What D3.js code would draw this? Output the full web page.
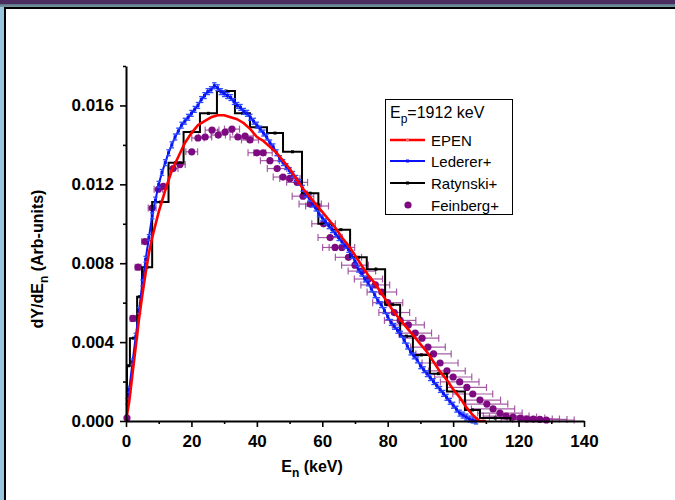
<!DOCTYPE html>
<html><head><meta charset="utf-8">
<script src="https://cdn.jsdelivr.net/npm/d3@7"></script>
<style>body{margin:0;background:#fff} svg{display:block} text{font-family:"Liberation Sans",Arial,sans-serif}</style>
</head><body><svg id="c" width="675" height="500"></svg>
<script>
// ---------- data ----------
const xTicks = [0,20,40,60,80,100,120,140];
const yTicks = [0.000,0.004,0.008,0.012,0.016];

const epenE = [0,1,2,3,4,5,6,7,8,10,12,14,16,18,20,22,24,26,28,30,32,34,36,38,40,42,44,46,48,50,52,54,56,58,60,62,64,66,68,70,72,74,76,78,80,82,84,86,88,90,92,94,96,98,100,102,104,106,108,110];
const epenY = [0,0.0010,0.0024,0.0038,0.0052,0.0064,0.0075,0.0085,0.0093,0.0106,0.0117,0.0127,0.0134,0.0141,0.0146,0.0150,0.0152,0.0154,0.0155,0.0155,0.0154,0.0153,0.0151,0.0148,0.0144,0.0142,0.0139,0.0136,0.0132,0.0128,0.0123,0.0118,0.0114,0.0110,0.0106,0.0102,0.0098,0.0093,0.0089,0.0084,0.0079,0.0074,0.0070,0.0065,0.0060,0.0055,0.0051,0.0047,0.0043,0.0039,0.0035,0.0030,0.0025,0.0021,0.0016,0.0012,0.0007,0.0003,0.0000,0.0000];

const ledererE = [0.5,1,2,3,4,5,6,7,8,9,10,11,12,13,14,15,16,17,18,19,20,21,22,23,24,25,26,27,28,29,30,31,32,33,34,35,36,37,38,39,40,41,42,43,44,45,46,47,48,49,50,51,52,53,54,55,56,57,58,59,60,61,62,63,64,65,66,67,68,69,70,71,72,73,74,75,76,77,78,79,80,81,82,83,84,85,86,87,88,89,90,91,92,93,94,95,96,97,98,99,100,101,102,103,104,105,106,107];
const ledererY = [0.0010,0.0016,0.0030,0.0043,0.0056,0.0070,0.0082,0.0093,0.0104,0.0112,0.0120,0.0126,0.0131,0.0136,0.0140,0.0144,0.0147,0.0150,0.0152,0.0154,0.0156,0.0158,0.0160,0.0163,0.0165,0.0167,0.0168,0.0170,0.0169,0.0167,0.0166,0.0165,0.0164,0.0162,0.0160,0.0159,0.0157,0.0156,0.0154,0.0152,0.0150,0.0148,0.0146,0.0144,0.0141,0.0139,0.0136,0.0133,0.0131,0.0129,0.0127,0.0125,0.0123,0.0121,0.0118,0.0115,0.0113,0.0110,0.0108,0.0105,0.0103,0.0101,0.0099,0.0097,0.0095,0.0093,0.0091,0.0089,0.0087,0.0084,0.0081,0.0077,0.0075,0.0072,0.0070,0.0067,0.0064,0.0061,0.0059,0.0056,0.0053,0.0050,0.0048,0.0046,0.0044,0.0041,0.0038,0.0035,0.0033,0.0031,0.0028,0.0026,0.0024,0.0022,0.0020,0.0018,0.0016,0.0014,0.0012,0.0010,0.0008,0.0006,0.0004,0.0003,0.0002,0.0001,0.00005,0.0000];
const ledererErr = 0.00015;

// Ratynski histogram: bin edges and bin contents
const ratEdges = [0.3,1.2,3.4,4.9,8.0,13.0,17.6,22.6,27.8,33.3,37.9,43.1,48.0,53.8,58.8,62.9,68.5,73.6,79.2,83.8,87.7,92.9,98.1,103.6,108.2,117.5];
const ratY = [0.0028,0.0042,0.0063,0.0078,0.0111,0.0131,0.01465,0.0156,0.01673,0.0156,0.0149,0.0146,0.01365,0.01155,0.0100,0.0097,0.0083,0.0077,0.0059,0.0043,0.00335,0.0024,0.0015,0.00056,0.00015];

const feiE = [0.3,2.1,3.7,5.8,8.0,9.9,11.4,14.4,16.5,20.1,22.0,24.2,26.3,28.2,30.3,32.4,34.2,36.4,37.9,40.0,41.9,44.0,46.2,48.0,50.1,52.3,54.1,56.3,58.4,60.4,62.4,63.9,66.0,68.0,70.0,72.1,74.1,76.2,78.2,80.0,82.0,83.8,86.3,88.4,90.5,92.3,94.0,96.0,98.1,100.0,102.0,104.2,106.0,108.2,110.3,112.2,114.3,116.2,118.3,120.5,122.5,124.5,126.5,128.5];
const feiY = [0.00015,0.0052,0.0078,0.0091,0.0108,0.01175,0.0119,0.0128,0.0130,0.01365,0.01435,0.0144,0.01475,0.0145,0.01465,0.0148,0.0144,0.01445,0.01425,0.0136,0.0136,0.0132,0.0128,0.01237,0.0123,0.0121,0.0114,0.0110,0.0109,0.0100,0.0093,0.0088,0.0088,0.0083,0.0079,0.0076,0.0072,0.0069,0.00654,0.0060,0.0055,0.0051,0.00487,0.00446,0.0042,0.00375,0.0034,0.00294,0.00254,0.00223,0.00198,0.0017,0.00137,0.00106,0.00086,0.00061,0.0004,0.00025,0.0002,0.00015,0.0001,0.0001,0.00008,0.00005];
const feiXerr = [0.3,0.8,0.9,1.0,1.2,1.3,1.4,1.5,1.6,1.8,1.9,2.0,2.1,2.2,2.3,2.3,2.4,2.5,2.6,2.7,2.8,2.9,3.0,3.0,3.1,3.2,3.3,3.4,3.5,3.6,3.7,3.8,3.9,4.0,4.1,4.2,4.3,4.4,4.5,4.6,4.7,4.8,4.9,5.0,5.1,5.3,5.4,5.5,5.6,5.7,5.9,6.0,6.1,6.3,6.4,6.6,6.8,7.0,7.2,7.5,7.8,8.0,8.3,8.5];

const legendTitle = {main:"E", sub:"p", rest:"=1912 keV"};
const seriesNames = ["EPEN","Lederer+","Ratynski+","Feinberg+"];

// ---------- drawing ----------
const svg = d3.select('#c');
const W = 675, H = 500;
svg.append('rect').attr('width',W).attr('height',H).attr('fill','#fff');
// slide frame
const defs = svg.append('defs');
const g1 = defs.append('linearGradient').attr('id','topg').attr('x1',0).attr('y1',0).attr('x2',0).attr('y2',1);
g1.append('stop').attr('offset','0%').attr('stop-color','#5a6f80');
g1.append('stop').attr('offset','100%').attr('stop-color','#7fa3ad');
svg.append('rect').attr('x',0).attr('y',0).attr('width',W).attr('height',4).attr('fill','#4a2d5e');
svg.append('rect').attr('x',0).attr('y',4).attr('width',W).attr('height',3.5).attr('fill','url(#topg)');
svg.append('rect').attr('x',0).attr('y',7).attr('width',4).attr('height',H-7).attr('fill','#98c6da');
svg.append('rect').attr('x',4).attr('y',7).attr('width',W-4).attr('height',2).attr('fill','#000');
svg.append('rect').attr('x',4).attr('y',7).attr('width',2).attr('height',H-7).attr('fill','#000');

const x = d3.scaleLinear().domain([0,140]).range([126,584]);
const y = d3.scaleLinear().domain([0,0.018]).range([421,66]);

// Feinberg (drawn first, beneath)
const fei = feiE.map((e,i)=>({e, v:feiY[i], dx:feiXerr[i]}));
const gF = svg.append('g');
const fCol = '#953f95';
gF.selectAll('line.h').data(fei).join('line')
  .attr('x1',d=>x(d.e-d.dx)).attr('x2',d=>x(d.e+d.dx))
  .attr('y1',d=>y(d.v)).attr('y2',d=>y(d.v))
  .attr('stroke',fCol).attr('stroke-opacity',0.85).attr('stroke-width',1.2);
gF.selectAll('line.c1').data(fei).join('line')
  .attr('x1',d=>x(d.e-d.dx)).attr('x2',d=>x(d.e-d.dx))
  .attr('y1',d=>y(d.v)-3.5).attr('y2',d=>y(d.v)+3.5)
  .attr('stroke',fCol).attr('stroke-opacity',0.85).attr('stroke-width',1.2);
gF.selectAll('line.c2').data(fei).join('line')
  .attr('x1',d=>x(d.e+d.dx)).attr('x2',d=>x(d.e+d.dx))
  .attr('y1',d=>y(d.v)-3.5).attr('y2',d=>y(d.v)+3.5)
  .attr('stroke',fCol).attr('stroke-opacity',0.85).attr('stroke-width',1.2);
gF.selectAll('circle').data(fei).join('circle')
  .attr('cx',d=>x(d.e)).attr('cy',d=>y(d.v)).attr('r',3.6).attr('fill','#7d0a80');

// Ratynski histogram
const ratPts = [];
ratY.forEach((v,i)=>{ ratPts.push([ratEdges[i],v]); ratPts.push([ratEdges[i+1],v]); });
const lineLin = d3.line().x(d=>x(d[0])).y(d=>y(d[1]));
const histPts = [[ratEdges[0],0]].concat(ratPts).concat([[ratEdges[ratEdges.length-1],0]]);
svg.append('path').attr('d',lineLin(histPts)).attr('fill','none').attr('stroke','#000').attr('stroke-width',2);
const ratC = ratY.map((v,i)=>({e:(ratEdges[i]+ratEdges[i+1])/2, v}));
svg.append('g').selectAll('rect').data(ratC).join('rect')
  .attr('x',d=>x(d.e)-1.5).attr('y',d=>y(d.v)-1.5).attr('width',3).attr('height',3).attr('fill','#000');

// Lederer
const led = ledererE.map((e,i)=>({e, v:ledererY[i]}));
const gL = svg.append('g');
gL.append('path').attr('d',d3.line().x(d=>x(d.e)).y(d=>y(d.v))(led))
  .attr('fill','none').attr('stroke','#0b12f5').attr('stroke-width',2);
gL.selectAll('line.v').data(led).join('line')
  .attr('x1',d=>x(d.e)).attr('x2',d=>x(d.e)).attr('y1',d=>y(d.v-ledererErr)).attr('y2',d=>y(d.v+ledererErr))
  .attr('stroke','#2c4cff').attr('stroke-width',1.3);
gL.selectAll('line.ca').data(led).join('line')
  .attr('x1',d=>x(d.e)-2.2).attr('x2',d=>x(d.e)+2.2).attr('y1',d=>y(d.v-ledererErr)).attr('y2',d=>y(d.v-ledererErr))
  .attr('stroke','#2c4cff').attr('stroke-width',1.3);
gL.selectAll('line.cb').data(led).join('line')
  .attr('x1',d=>x(d.e)-2.2).attr('x2',d=>x(d.e)+2.2).attr('y1',d=>y(d.v+ledererErr)).attr('y2',d=>y(d.v+ledererErr))
  .attr('stroke','#2c4cff').attr('stroke-width',1.3);
gL.selectAll('rect').data(led).join('rect')
  .attr('x',d=>x(d.e)-1.5).attr('y',d=>y(d.v)-1.5).attr('width',3).attr('height',3).attr('fill','#0b12f5');

// EPEN
const ep = epenE.map((e,i)=>({e, v:epenY[i]}));
svg.append('path').attr('d',d3.line().x(d=>x(d.e)).y(d=>y(d.v))(ep))
  .attr('fill','none').attr('stroke','#ff0000').attr('stroke-width',2.6).attr('stroke-linejoin','round');

// ---------- axes ----------
const fmt = d3.format('.3f');
svg.append('g').attr('transform','translate(0,421)')
  .call(d3.axisBottom(x).tickValues(xTicks).tickSize(6).tickSizeOuter(0).tickPadding(8).tickFormat(d3.format('d')));
svg.append('g').attr('transform','translate(0,421)')
  .call(d3.axisBottom(x).tickValues([10,30,50,70,90,110,130]).tickSize(3).tickSizeOuter(0).tickFormat(''))
  .select('.domain').remove();
svg.append('g').attr('transform','translate(126,0)')
  .call(d3.axisLeft(y).tickValues(yTicks).tickSize(6).tickSizeOuter(0).tickPadding(6).tickFormat(fmt));
svg.append('g').attr('transform','translate(126,0)')
  .call(d3.axisLeft(y).tickValues([0.002,0.006,0.010,0.014,0.018]).tickSize(3).tickSizeOuter(0).tickFormat(''))
  .select('.domain').remove();
svg.selectAll('.domain').attr('stroke','#000').attr('stroke-width',2);
svg.selectAll('.tick line').attr('stroke','#000').attr('stroke-width',1.6);
svg.selectAll('.tick text').attr('font-family','"Liberation Sans",Arial,sans-serif')
  .attr('font-size',17).attr('font-weight','bold').attr('fill','#000');

// axis titles
const xt = svg.append('text').attr('x',312).attr('y',472).attr('text-anchor','middle')
  .attr('font-size',16).attr('font-weight','bold');
xt.append('tspan').text('E');
xt.append('tspan').text('n').attr('font-size',12).attr('dy',5);
xt.append('tspan').text(' (keV)').attr('dy',-5);

const yt = svg.append('text').attr('transform','translate(43,259) rotate(-90)').attr('text-anchor','middle')
  .attr('font-size',16).attr('font-weight','bold');
yt.append('tspan').text('dY/dE');
yt.append('tspan').text('n').attr('font-size',12).attr('dy',5);
yt.append('tspan').text(' (Arb-units)').attr('dy',-5);

// ---------- legend ----------
const lg = svg.append('g');
lg.append('rect').attr('x',385.5).attr('y',99.5).attr('width',127).attr('height',115)
  .attr('fill','#fff').attr('stroke','#000').attr('stroke-width',1);
const lt = lg.append('text').attr('x',390).attr('y',118).attr('font-size',16);
lt.append('tspan').text(legendTitle.main);
lt.append('tspan').text(legendTitle.sub).attr('font-size',12).attr('dy',5);
lt.append('tspan').text(legendTitle.rest).attr('dy',-5);
const rowsY = [140,161,183,205];
const cols = ['#ff0000','#0b12f5','#000','#7d0a80'];
seriesNames.forEach((n,i)=>{
  const yy = rowsY[i];
  if(i<3){
    lg.append('line').attr('x1',390).attr('x2',425).attr('y1',yy).attr('y2',yy)
      .attr('stroke',cols[i]).attr('stroke-width',i===0?2.6:2);
    if(i===0) lg.append('circle').attr('cx',407.5).attr('cy',yy).attr('r',1.6).attr('fill','#ff6060');
    else lg.append('rect').attr('x',406).attr('y',yy-1.5).attr('width',3).attr('height',3).attr('fill',cols[i]);
  } else {
    lg.append('circle').attr('cx',408).attr('cy',yy).attr('r',3.6).attr('fill',cols[i]);
  }
  lg.append('text').attr('x',431).attr('y',yy+5.5).attr('font-size',15).text(n);
});
</script></body></html>
